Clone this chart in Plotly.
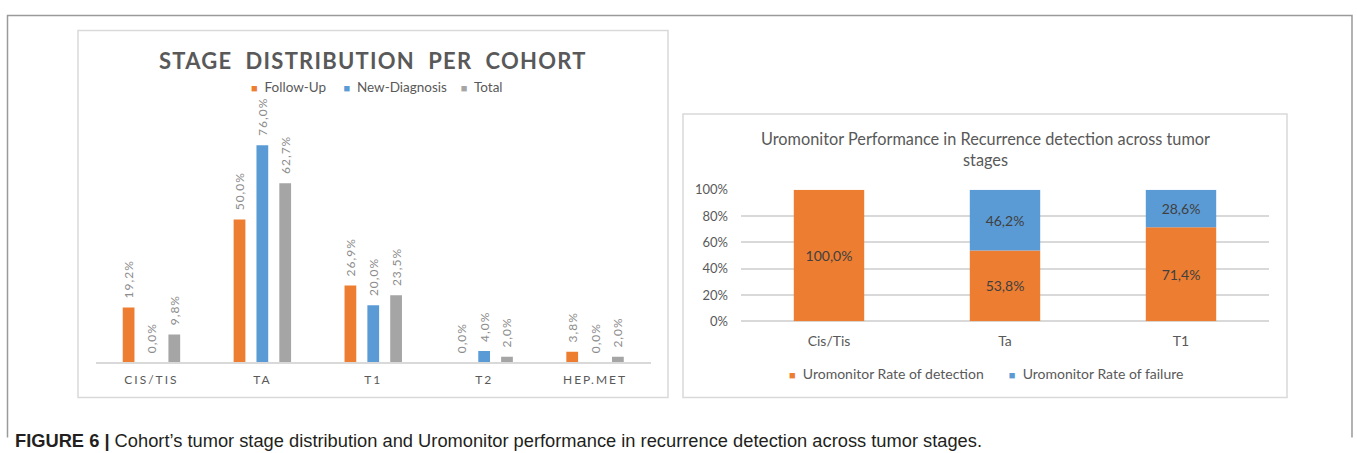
import plotly.graph_objects as go

# ---------------- data ----------------
stages = ["CIS/TIS", "TA", "T1", "T2", "HEP.MET"]
follow_up = [19.2, 50.0, 26.9, 0.0, 3.8]
new_diagnosis = [0.0, 76.0, 20.0, 4.0, 0.0]
total = [9.8, 62.7, 23.5, 2.0, 2.0]

perf_stages = ["Cis/Tis", "Ta", "T1"]
detection = [100.0, 53.8, 71.4]
failure = [0.0, 46.2, 28.6]
pct_ticks = [0, 20, 40, 60, 80, 100]

left_title = "STAGE DISTRIBUTION PER COHORT"
right_title = "Uromonitor Performance in Recurrence detection across tumor<br>stages"
caption_bold = "FIGURE 6 |"
caption_text = "Cohort\u2019s tumor stage distribution and Uromonitor performance in recurrence detection across tumor stages."

# ---------------- style ----------------
W, H = 1357, 453
ORANGE = "#ED7D31"
BLUE = "#5B9BD5"
GRAY = "#A5A5A5"
FONT = "Lato"
TXT = "#595959"
GRID = "#D9D9D9"
NB = "\u00a0"
Y0, YS = 6.4, 0.9696  # vertical calibration of the rendered page


def px(x):
    return x / W


def py(y):
    return 1 - ((y - Y0) / YS) / H


def fmt(v):
    return ("%.1f%%" % v).replace(".", ",")


fig = go.Figure()

# ---- left chart: grouped bars (explicit offsets) ----
slot = 0.206
bw = 0.106
label_tpl = NB * 2 + "<span style=\"letter-spacing:1px\">%{y:.1f}%</span>"
for vals, col, name, k in [(follow_up, ORANGE, "Follow-Up", -1),
                           (new_diagnosis, BLUE, "New-Diagnosis", 0),
                           (total, GRAY, "Total", 1)]:
    fig.add_trace(go.Bar(
        x=stages, y=vals, name=name, marker_color=col, marker_line_width=0,
        width=bw, offset=k * slot - bw / 2,
        texttemplate=label_tpl, textposition="outside", textangle=-90,
        textfont=dict(family=FONT, size=12, color="#8C8C8C"),
        constraintext="none", cliponaxis=False, showlegend=False,
        xaxis="x", yaxis="y", hoverinfo="skip"))

# ---- right chart: stacked via base ----
fig.add_trace(go.Bar(
    x=perf_stages, y=detection, name="Uromonitor Rate of detection",
    marker_color=ORANGE, marker_line_width=0, width=0.4,
    text=[fmt(v) if v > 0 else "" for v in detection],
    textposition="inside", insidetextanchor="middle", textangle=0,
    insidetextfont=dict(family=FONT, size=14, color="#404040"),
    showlegend=False, xaxis="x2", yaxis="y2", hoverinfo="skip"))
fig.add_trace(go.Bar(
    x=perf_stages, y=failure, base=detection, name="Uromonitor Rate of failure",
    marker_color=BLUE, marker_line_width=0, width=0.4,
    text=[fmt(v) if v > 0 else "" for v in failure],
    textposition="inside", insidetextanchor="middle", textangle=0,
    insidetextfont=dict(family=FONT, size=14, color="#404040"),
    showlegend=False, xaxis="x2", yaxis="y2", hoverinfo="skip"))

spaced_ticks = ["<span style=\"letter-spacing:2px\">%s</span>" % s for s in stages]

fig.update_layout(
    width=W, height=H, margin=dict(l=0, r=0, t=0, b=0), autosize=False,
    paper_bgcolor="white", plot_bgcolor="rgba(0,0,0,0)",
    barmode="overlay", separators=",.",
    font=dict(family=FONT, color=TXT),
    xaxis=dict(domain=[px(96), px(650.5)], anchor="y", type="category",
               range=[-0.5, 4.5], tickmode="array", tickvals=stages, ticktext=spaced_ticks,
               showgrid=False, zeroline=False, showline=True, linecolor=GRID, linewidth=1.5,
               ticks="", ticklabelstandoff=5,
               tickfont=dict(family=FONT, size=12, color=TXT)),
    xaxis3=dict(overlaying="x", anchor="y", range=[-0.5, 4.5], tickmode="array",
                tickvals=[-0.5, 0.5, 1.5, 2.5, 3.5, 4.5], showticklabels=False,
                showgrid=True, gridcolor=GRID, gridwidth=1, zeroline=False, showline=False, ticks=""),
    yaxis=dict(domain=[py(362.7), py(131)], anchor="x", range=[0, 80.6],
               showgrid=False, zeroline=False, showticklabels=False, showline=False, ticks=""),
    xaxis2=dict(domain=[px(741), px(1269)], anchor="y2", type="category",
                range=[-0.5, 2.5], showgrid=False, zeroline=False, showline=False,
                ticks="", ticklabelstandoff=10,
                tickfont=dict(family=FONT, size=14, color=TXT)),
    yaxis2=dict(domain=[py(321.3), py(189)], anchor="x2", range=[0, 100],
                tickmode="array", tickvals=pct_ticks, ticktext=["%d%%" % v for v in pct_ticks],
                showgrid=True, gridcolor=GRID, gridwidth=1.5, zeroline=True, zerolinecolor=GRID,
                zerolinewidth=1.5, showline=False, ticks="", ticklabelstandoff=12,
                tickfont=dict(family=FONT, size=13, color=TXT)),
)

# ---- frames / panel boxes ----
fig.add_shape(type="rect", xref="paper", yref="paper", x0=px(78), x1=px(668), y0=py(398), y1=py(29),
              line=dict(color=GRID, width=1.5), fillcolor="white", layer="below")
fig.add_shape(type="rect", xref="paper", yref="paper", x0=px(683), x1=px(1287), y0=py(398), y1=py(113),
              line=dict(color=GRID, width=1.5), fillcolor="white", layer="below")
fig.add_shape(type="path", xref="paper", yref="paper",
              path="M %f %f L %f %f L %f %f L %f %f" % (px(7.5), py(438), px(7.5), py(14), px(1352), py(14), px(1352), py(438)),
              line=dict(color="#9A9A9A", width=1.5), layer="below")

# ---- titles, legends, caption ----
fig.add_annotation(xref="paper", yref="paper", x=px(373), y=py(59), xanchor="center", yanchor="middle",
                   showarrow=False,
                   text="<b><span style=\"letter-spacing:1.25px\">%s</span></b>" % left_title.replace(" ", NB * 2),
                   font=dict(family=FONT, size=22, color=TXT))


def sq(c):
    return "<span style=\"color:%s;font-size:11px\">\u25A0</span>" % c


fig.add_annotation(xref="paper", yref="paper", x=px(377), y=py(86), xanchor="center", yanchor="middle",
                   showarrow=False,
                   text=sq(ORANGE) + NB * 2 + "Follow-Up" + NB * 5 + sq(BLUE) + NB * 2 + "New-Diagnosis" + NB * 4 + sq(GRAY) + NB * 2 + "Total",
                   font=dict(family=FONT, size=13.5, color=TXT))
fig.add_annotation(xref="paper", yref="paper", x=px(985), y=py(148), xanchor="center", yanchor="middle",
                   showarrow=False, text=right_title, font=dict(family=FONT, size=16.3, color=TXT))
fig.add_annotation(xref="paper", yref="paper", x=px(986), y=py(374), xanchor="center", yanchor="middle",
                   showarrow=False,
                   text=sq(ORANGE) + NB * 2 + "Uromonitor Rate of detection" + NB * 7 + sq(BLUE) + NB * 2 + "Uromonitor Rate of failure",
                   font=dict(family=FONT, size=14, color=TXT))
fig.add_annotation(xref="paper", yref="paper", x=px(13), y=1 - 448 / H, xanchor="left", yanchor="middle",
                   showarrow=False, text="<b>%s</b> %s" % (caption_bold, caption_text),
                   font=dict(family="Liberation Sans", size=18.3, color="#231F20"))

fig.write_html("out.html", config={"displayModeBar": False},
               post_script="document.body.style.margin='0';document.body.style.overflow='hidden';")
